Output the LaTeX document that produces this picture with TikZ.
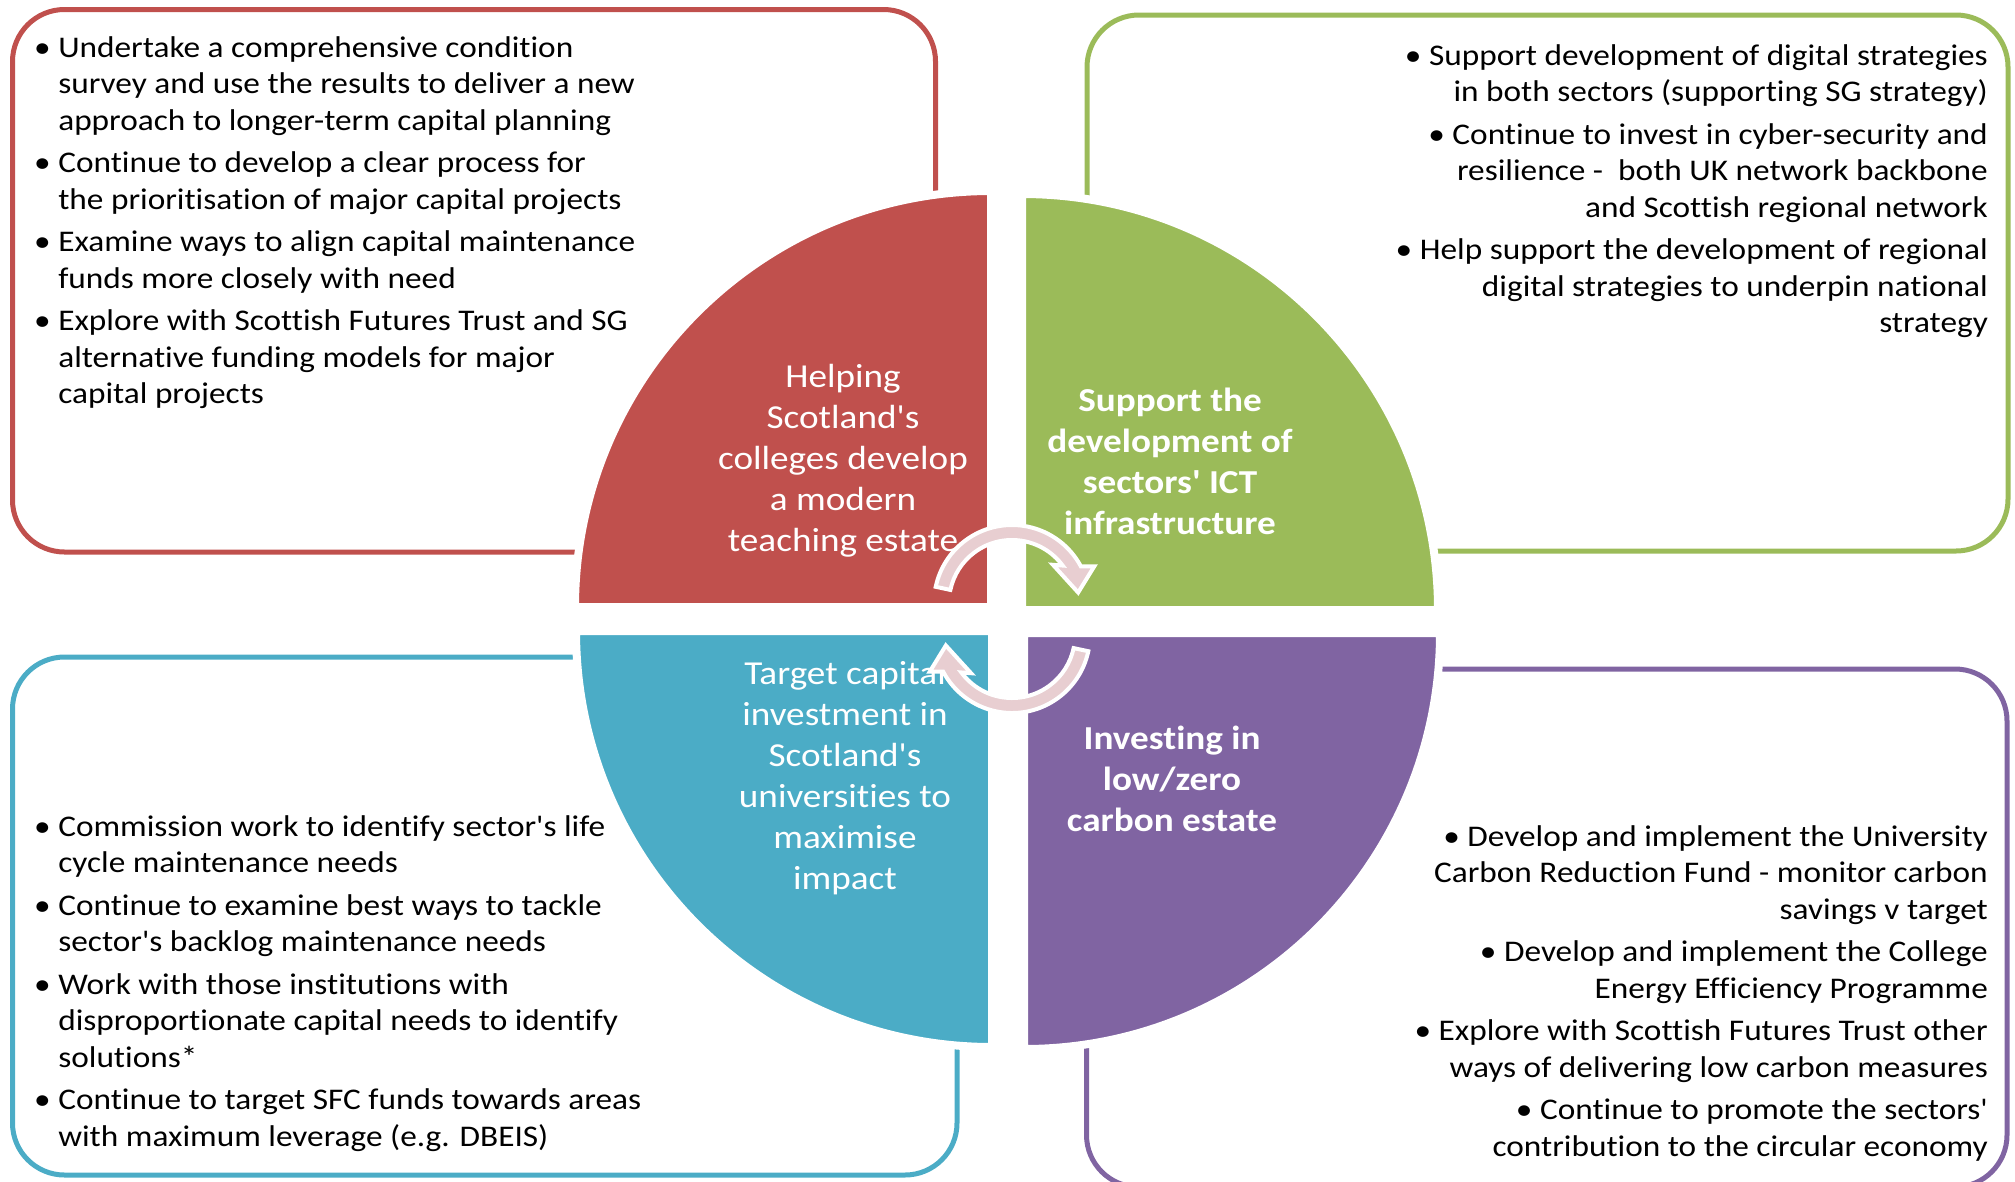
\documentclass[tikz,border=0pt]{standalone}
\usepackage{fontspec}
\setmainfont{Carlito}[Ligatures={TeXOff,NoCommon},FakeStretch=1.11]
\usetikzlibrary{positioning}
\definecolor{cred}{HTML}{C0504D}
\definecolor{cgreen}{HTML}{9BBB59}
\definecolor{cblue}{HTML}{4BACC6}
\definecolor{cpurple}{HTML}{8064A2}
\definecolor{carrow}{RGB}{232,206,209}
\newcommand{\bulind}{\hphantom{\textbullet\ }}

\begin{document}
\begin{tikzpicture}[x=1pt,y=1pt,
  panel/.style={line width=5pt,rounded corners=52pt},
  quarter/.style={draw=white,line width=8pt},
  qtext/.style={text=white,align=center,inner sep=0pt,font=\fontsize{33.5}{41}\selectfont},
  qbold/.style={qtext,font=\fontsize{33.5}{41}\selectfont\bfseries},
  btext/.style={inner sep=0pt,font=\fontsize{30}{36.6}\selectfont},
  cycarrow/.style={fill=carrow,draw=white,line width=4pt,line join=miter}]
\useasboundingbox (0,0) rectangle (2015,-1181);

% outlined panels
\draw[panel,cred] (12.5,-9.5) rectangle (935.5,-552);
\draw[panel,cgreen] (1087,-15) rectangle (2008,-551);
\draw[panel,cblue] (12.5,-657) rectangle (957,-1175);
\draw[panel,cpurple] (1086.5,-669) rectangle (2007,-1187);

% quarter circles
\coordinate (R) at (991,-607);
\coordinate (G) at (1022,-610);
\coordinate (B) at (992,-631);
\coordinate (P) at (1024,-633);
\filldraw[quarter,fill=cred] (R) -- ++(-416,0) arc[start angle=180,end angle=90,radius=416] -- cycle;
\filldraw[quarter,fill=cgreen] (G) -- ++(416,0) arc[start angle=0,end angle=90,radius=416] -- cycle;
\filldraw[quarter,fill=cblue] (B) -- ++(-416,0) arc[start angle=180,end angle=270,radius=416] -- cycle;
\filldraw[quarter,fill=cpurple] (P) -- ++(416,0) arc[start angle=0,end angle=-90,radius=416] -- cycle;

% titles
\node[qtext] (redtitle) at (843,-461) {Helping\\Scotland's\\colleges develop\\a modern\\teaching estate};
\node[qbold] (greentitle) at (1170,-461) {Support the\\development of\\sectors' ICT\\infrastructure};
\node[qtext] (bluetitle) at (845,-778) {Target capital\\investment in\\Scotland's\\universities to\\maximise\\impact};
\node[qbold] (purpletitle) at (1172,-779) {Investing in\\low/zero\\carbon estate};

% cycle arrows
\begin{scope}[shift={(1012,-603)}]
\draw[cycarrow] (168:78) arc[start angle=168,end angle=28,radius=78] -- (24:90) -- (9:67)
  -- (43:56) -- (36.5:63) arc[start angle=36.5,end angle=168,radius=63] -- cycle;
\end{scope}
\begin{scope}[shift={(1012,-635)},rotate=180]
\draw[cycarrow] (168:78) arc[start angle=168,end angle=28,radius=78] -- (24:90) -- (9:67)
  -- (43:56) -- (36.5:63) arc[start angle=36.5,end angle=168,radius=63] -- cycle;
\end{scope}

% bullet lists
\node[btext,align=left,anchor=north west] (redlist) at (34,-36)
  {\textbullet\ Undertake a comprehensive condition\\
   \bulind survey and use the results to deliver a new\\
   \bulind approach to longer-term capital planning\\[5.8pt]
   \textbullet\ Continue to develop a clear process for\\
   \bulind the prioritisation of major capital projects\\[5.8pt]
   \textbullet\ Examine ways to align capital maintenance\\
   \bulind funds more closely with need\\[5.8pt]
   \textbullet\ Explore with Scottish Futures Trust and SG\\
   \bulind alternative funding models for major\\
   \bulind capital projects};
\node[btext,align=right,anchor=north east] (greenlist) at (1988,-44)
  {\textbullet\ Support development of digital strategies\\
   in both sectors (supporting SG strategy)\\[5.8pt]
   \textbullet\ Continue to invest in cyber-security and\\
   resilience -\ \ both UK network backbone\\
   and Scottish regional network\\[5.8pt]
   \textbullet\ Help support the development of regional\\
   digital strategies to underpin national\\
   strategy};
\node[btext,align=left,anchor=north west] (bluelist) at (34,-815)
  {\textbullet\ Commission work to identify sector's life\\
   \bulind cycle maintenance needs\\[5.8pt]
   \textbullet\ Continue to examine best ways to tackle\\
   \bulind sector's backlog maintenance needs\\[5.8pt]
   \textbullet\ Work with those institutions with\\
   \bulind disproportionate capital needs to identify\\
   \bulind solutions*\\[5.8pt]
   \textbullet\ Continue to target SFC funds towards areas\\
   \bulind with maximum leverage (e.g. DBEIS)};
\node[btext,align=right,anchor=north east] (purplelist) at (1988,-825)
  {\textbullet\ Develop and implement the University\\
   Carbon Reduction Fund - monitor carbon\\
   savings v target\\[5.8pt]
   \textbullet\ Develop and implement the College\\
   Energy Efficiency Programme\\[5.8pt]
   \textbullet\ Explore with Scottish Futures Trust other\\
   ways of delivering low carbon measures\\[5.8pt]
   \textbullet\ Continue to promote the sectors'\\
   contribution to the circular economy};
\end{tikzpicture}
\end{document}
